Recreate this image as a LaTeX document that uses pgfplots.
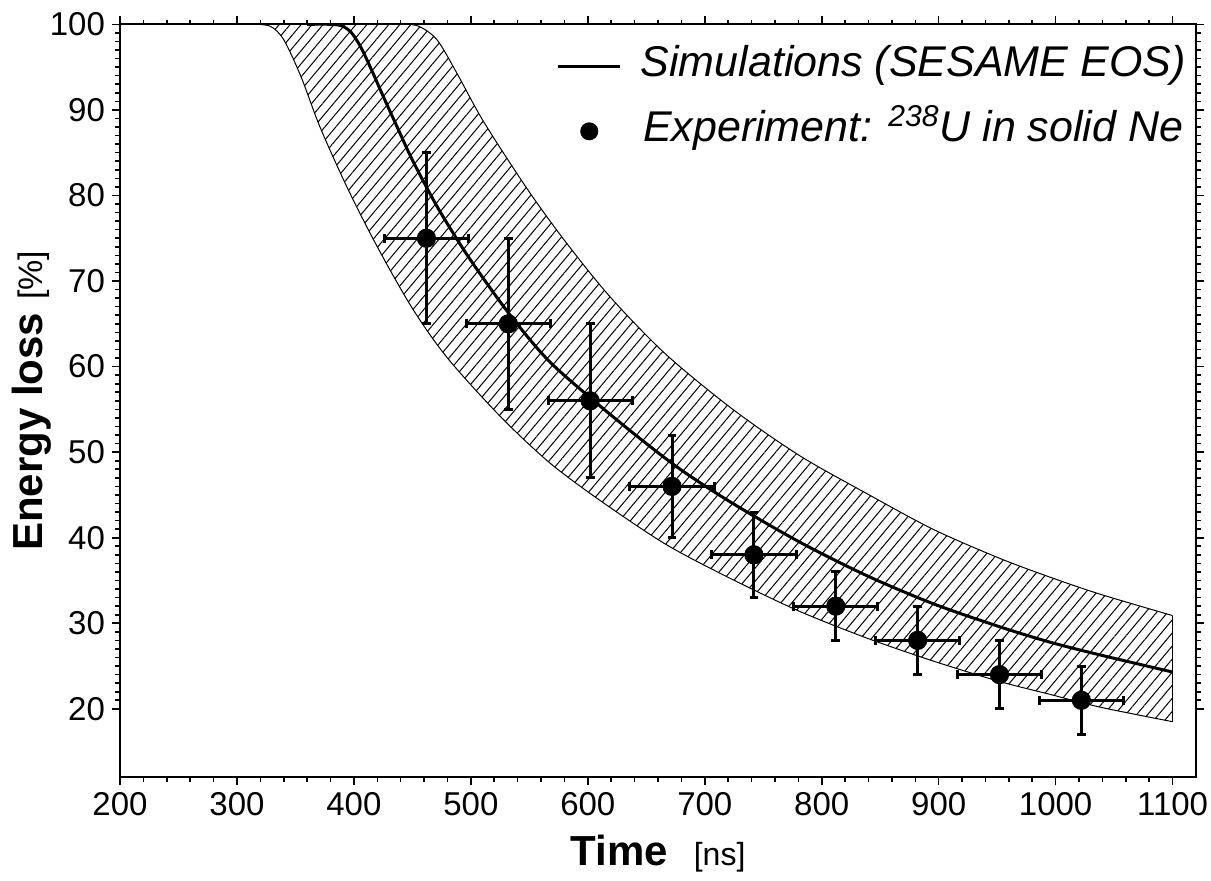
\documentclass[border=0pt]{standalone}
\usepackage{fontspec}
\setmainfont{Liberation Sans}
\usepackage{pgfplots}
\pgfplotsset{compat=1.18}
\usepgfplotslibrary{fillbetween}
\usetikzlibrary{patterns.meta}

\begin{document}
\begin{tikzpicture}
\begin{axis}[
  at={(0,0)}, anchor=south west,
  scale only axis,
  width=538pt, height=376.5pt,
  xmin=200, xmax=1120, ymin=12, ymax=100,
  xtick={200,300,...,1100}, ytick={20,30,...,100},
  minor x tick num=4, minor y tick num=9,
  tick align=outside,
  major tick length=4pt, minor tick length=2.3pt,
  tick style={black, line width=0.8pt},
  axis line style={line width=1pt},
  ticklabel style={font=\fontsize{16.5}{16.5}\selectfont},
  /pgf/number format/assume math mode=true,
  /pgf/number format/1000 sep={},
  xlabel={{\fontsize{21}{24}\selectfont\bfseries Time}\hspace{13pt}{\fontsize{16}{19}\selectfont [ns]}},
  ylabel={{\fontsize{21}{24}\selectfont\bfseries Energy loss}\hspace{6.5pt}{\fontsize{17}{19}\selectfont [\%]}},
  xlabel style={at={(axis description cs:0.5,-0.1169)}, anchor=base},
  ylabel style={at={(axis description cs:-0.0716,0.5)}, anchor=base},
  legend style={draw=none, fill=none, at={(axis description cs:1,1)}, anchor=north east,
    xshift=-5pt, yshift=-10.8pt, inner sep=0pt, row sep=12.5pt,
    font=\fontsize{21.5}{25}\selectfont\itshape,
    nodes={inner sep=0pt, text height=15pt, text depth=5pt},
    /tikz/every odd column/.append style={column sep=9.5pt}},
]
% uncertainty band
\addplot[name path=lower, black, line width=0.5pt, smooth, forget plot] coordinates {
  (310,100) (328,99.8) (340,98.2) (355,93.8) (371,88.0) (394,81.0) (420,74.0)
  (450,66.8) (480,61.0) (525,54.2) (567,48.8) (610,44.4) (667,39.2) (724,35.1)
  (781,31.4) (838,28.3) (895,25.6) (952,23.2) (995,21.7) (1038,20.2) (1100,18.5)
};
\addplot[name path=upper, black, line width=0.5pt, smooth, forget plot] coordinates {
  (440,100) (455,99.8) (471,98.2) (488,94.3) (511,88.6) (549,80.6) (582,74.4)
  (620,68.0) (667,61.4) (724,55.0) (781,49.6) (838,45.2) (895,41.0) (952,37.6)
  (995,35.4) (1038,33.4) (1100,30.9)
};
\addplot[draw=none, pattern={Lines[angle=50, distance=4.2pt, line width=0.5pt]},
  pattern color=black, forget plot] fill between[of=lower and upper];
\addplot[black, line width=0.5pt, forget plot] coordinates {(1100,18.5) (1100,30.9)};
% simulation
\addplot[black, line width=1.5pt, smooth,
  legend image code/.code={\draw[black, line width=1.5pt] (0pt,0pt) -- (31pt,0pt);}] coordinates {
  (360,100) (380,100) (390,99.8) (398,99.0) (406,97.3) (415,94.7) (425,91.6)
  (437,88.0) (448,84.7) (460,81.5) (475,77.8) (499,72.6) (532,66.3) (565,60.9)
  (600,56.6) (639,52.2) (679,48.0) (724,44.0) (781,39.5) (838,35.6) (895,32.3)
  (952,29.6) (995,27.8) (1038,26.3) (1100,24.3)
};
\addlegendentry{Simulations (SESAME EOS)}
% experiment
\addplot[black, only marks, mark=*, mark size=4.6pt,
  legend image code/.code={\path[draw=none] (0pt,0pt) -- (31pt,0pt); \fill[black] (15.5pt,0pt) circle (4.3pt);},
  error bars/.cd, x dir=both, x explicit, y dir=both, y explicit,
  error bar style={line width=1.5pt},
  error mark options={black, rotate=90, line width=1.5pt, mark size=2.2pt}] coordinates {
  (462,75) +- (36,10)
  (532,65) +- (36,10)
  (602,56) +- (36,9)
  (672,46) +- (36,6)
  (742,38) +- (36,5)
  (812,32) +- (36,4)
  (882,28) +- (36,4)
  (952,24) +- (36,4)
  (1022,21) +- (36,4)
};
\addlegendentry{Experiment: \textsuperscript{238}U in solid Ne}
\end{axis}
\pgfresetboundingbox
\useasboundingbox (-60pt,-51.35pt) rectangle (545.5pt,388.65pt);
\end{tikzpicture}
\end{document}
